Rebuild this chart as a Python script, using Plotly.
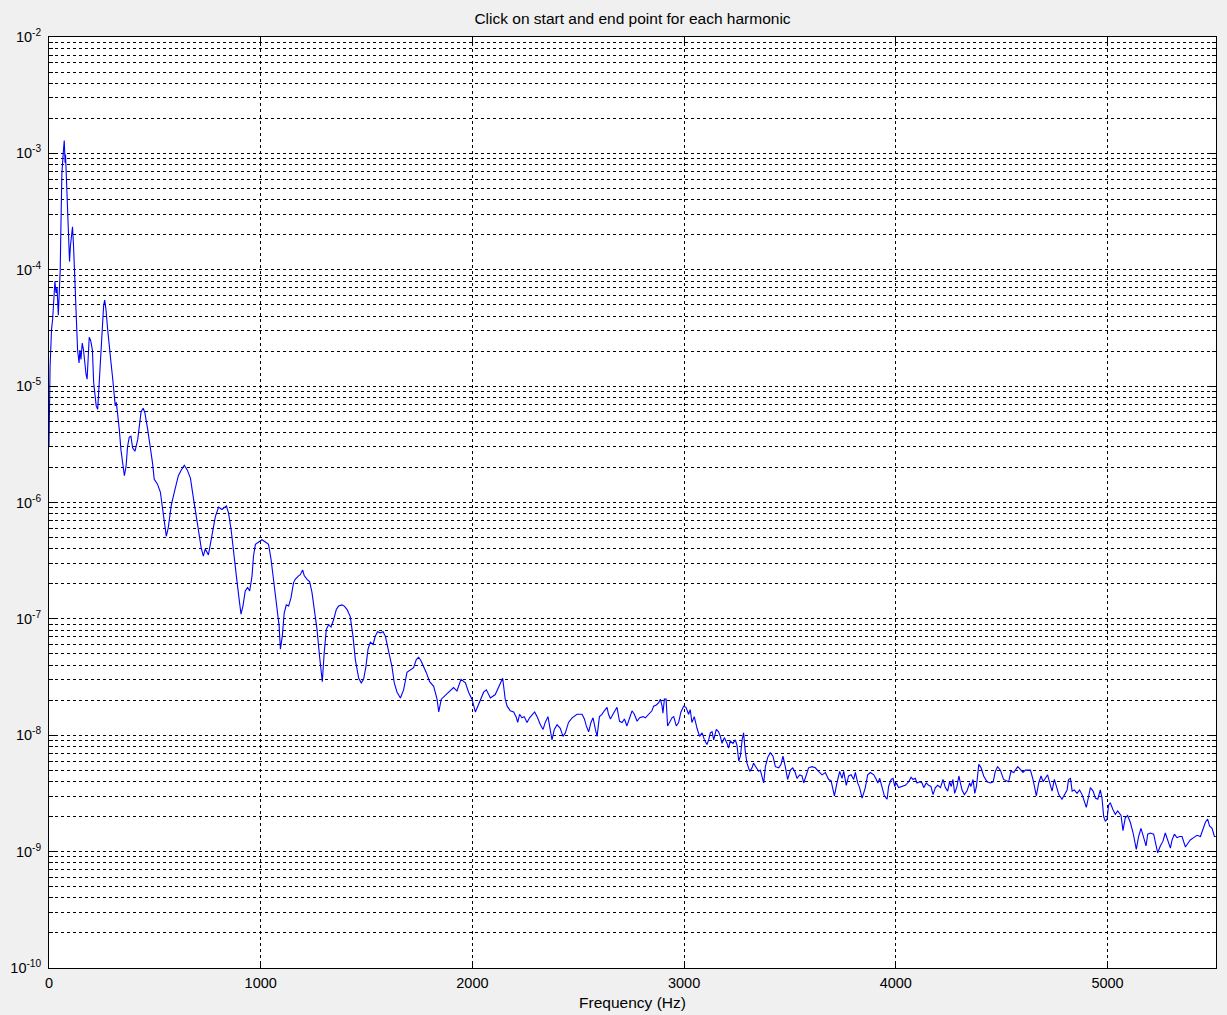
import numpy as np
import plotly.graph_objects as go

# Power spectrum of the recorded signal: frequency (Hz) and log10 of the PSD value
freq_hz = [
    0, 2, 5, 12, 17, 22, 28, 33, 38, 44,
    50, 53, 57, 61, 68, 72, 76, 78, 82, 88,
    93, 97, 101, 107, 111, 116, 123, 129, 135, 142,
    146, 151, 157, 163, 168, 175, 180, 184, 190, 197,
    205, 211, 217, 223, 230, 234, 241, 246, 253, 258,
    263, 269, 277, 285, 293, 300, 308, 313, 318, 324,
    332, 340, 348, 356, 364, 371, 379, 387, 395, 406,
    419, 427, 435, 445, 453, 466, 479, 489, 497, 512,
    526, 540, 554, 563, 578, 592, 611, 625, 639, 653,
    668, 682, 701, 719, 729, 738, 753, 770, 786, 801,
    817, 838, 848, 860, 872, 885, 896, 907, 916, 927,
    938, 948, 959, 966, 975, 990, 1006, 1022, 1037, 1049,
    1061, 1074, 1087, 1093, 1102, 1111, 1121, 1132, 1143, 1155,
    1163, 1179, 1187, 1198, 1206, 1219, 1231, 1242, 1253, 1266,
    1278, 1291, 1300, 1310, 1321, 1332, 1344, 1357, 1368, 1384,
    1395, 1408, 1423, 1436, 1447, 1463, 1475, 1486, 1497, 1507,
    1518, 1531, 1541, 1552, 1565, 1578, 1589, 1604, 1620, 1631,
    1644, 1660, 1675, 1691, 1707, 1722, 1735, 1746, 1757, 1770,
    1782, 1798, 1817, 1833, 1841, 1853, 1880, 1911, 1927, 1946,
    1967, 1982, 1998, 2014, 2028, 2053, 2066, 2085, 2108, 2132,
    2143, 2155, 2164, 2179, 2195, 2208, 2214, 2223, 2234, 2245,
    2258, 2270, 2282, 2294, 2308, 2321, 2334, 2344, 2357, 2368,
    2376, 2387, 2400, 2415, 2428, 2439, 2454, 2471, 2494, 2518,
    2529, 2538, 2549, 2560, 2570, 2581, 2589, 2600, 2612, 2623,
    2636, 2643, 2652, 2664, 2675, 2683, 2695, 2707, 2718, 2730,
    2743, 2754, 2765, 2778, 2790, 2806, 2817, 2832, 2848, 2856,
    2869, 2880, 2888, 2896, 2900, 2907, 2915, 2922, 2932, 2943,
    2951, 2963, 2974, 2985, 2998, 3009, 3021, 3029, 3037, 3048,
    3061, 3073, 3085, 3096, 3108, 3116, 3124, 3132, 3140, 3152,
    3163, 3171, 3179, 3190, 3203, 3210, 3218, 3231, 3242, 3250,
    3258, 3266, 3274, 3281, 3289, 3297, 3310, 3321, 3328, 3341,
    3352, 3360, 3376, 3384, 3395, 3407, 3420, 3431, 3447, 3458,
    3467, 3478, 3489, 3502, 3513, 3525, 3533, 3546, 3557, 3565,
    3577, 3588, 3604, 3620, 3635, 3652, 3667, 3683, 3694, 3710,
    3722, 3735, 3746, 3754, 3766, 3777, 3789, 3801, 3809, 3820,
    3829, 3841, 3856, 3867, 3880, 3896, 3908, 3915, 3924, 3935,
    3946, 3959, 3966, 3978, 3987, 3995, 4003, 4013, 4029, 4045,
    4061, 4072, 4081, 4092, 4100, 4113, 4124, 4132, 4144, 4155,
    4166, 4176, 4187, 4198, 4211, 4223, 4234, 4245, 4254, 4262,
    4270, 4278, 4289, 4298, 4305, 4313, 4324, 4336, 4349, 4355,
    4365, 4373, 4381, 4392, 4403, 4415, 4431, 4447, 4460, 4470,
    4481, 4494, 4509, 4533, 4544, 4557, 4576, 4588, 4601, 4612,
    4636, 4648, 4664, 4675, 4686, 4696, 4707, 4717, 4727, 4738,
    4749, 4759, 4770, 4785, 4796, 4809, 4816, 4825, 4833, 4843,
    4856, 4868, 4880, 4891, 4900, 4908, 4919, 4932, 4943, 4954,
    4966, 4974, 4982, 4990, 4998, 5005, 5013, 5026, 5037, 5048,
    5057, 5064, 5073, 5084, 5095, 5108, 5121, 5127, 5136, 5147,
    5158, 5171, 5182, 5190, 5202, 5218, 5226, 5237, 5250, 5262,
    5273, 5284, 5297, 5305, 5316, 5328, 5341, 5352, 5368, 5379,
    5391, 5407, 5423, 5439, 5451, 5462, 5473, 5482, 5494, 5505,
    5512,
]

psd_log10 = [
    -5.52, -5.23, -4.84, -4.51, -4.43, -4.28, -4.10, -4.20, -4.15, -4.39,
    -4.17, -4.00, -3.55, -3.17, -2.98, -2.89, -3.08, -3.01, -3.20, -3.46,
    -3.77, -3.93, -3.80, -3.65, -3.63, -3.80, -4.17, -4.51, -4.69, -4.80,
    -4.69, -4.77, -4.63, -4.69, -4.80, -4.90, -4.94, -4.77, -4.58, -4.61,
    -4.69, -4.97, -5.09, -5.17, -5.20, -5.06, -4.80, -4.63, -4.43, -4.31,
    -4.26, -4.34, -4.51, -4.63, -4.80, -4.92, -5.09, -5.17, -5.14, -5.22,
    -5.37, -5.55, -5.66, -5.77, -5.69, -5.52, -5.44, -5.43, -5.53, -5.56,
    -5.46, -5.31, -5.22, -5.19, -5.23, -5.37, -5.52, -5.66, -5.80, -5.84,
    -5.91, -6.08, -6.29, -6.22, -6.02, -5.91, -5.77, -5.72, -5.68, -5.72,
    -5.79, -5.96, -6.19, -6.39, -6.46, -6.40, -6.45, -6.26, -6.12, -6.04,
    -6.06, -6.03, -6.09, -6.23, -6.40, -6.63, -6.80, -6.96, -6.89, -6.76,
    -6.73, -6.76, -6.63, -6.46, -6.36, -6.34, -6.32, -6.34, -6.36, -6.49,
    -6.66, -6.84, -7.06, -7.26, -7.15, -6.95, -6.88, -6.89, -6.82, -6.69,
    -6.66, -6.63, -6.62, -6.58, -6.63, -6.66, -6.68, -6.77, -6.92, -7.09,
    -7.32, -7.54, -7.29, -7.09, -7.05, -7.07, -7.01, -6.92, -6.89, -6.88,
    -6.89, -6.92, -6.98, -7.15, -7.35, -7.51, -7.55, -7.52, -7.41, -7.26,
    -7.20, -7.22, -7.15, -7.11, -7.12, -7.11, -7.15, -7.29, -7.41, -7.55,
    -7.63, -7.68, -7.61, -7.46, -7.44, -7.42, -7.35, -7.33, -7.36, -7.41,
    -7.46, -7.54, -7.58, -7.69, -7.80, -7.69, -7.64, -7.59, -7.62, -7.52,
    -7.55, -7.63, -7.69, -7.80, -7.74, -7.63, -7.61, -7.68, -7.65, -7.55,
    -7.51, -7.69, -7.75, -7.79, -7.80, -7.85, -7.89, -7.82, -7.85, -7.84,
    -7.89, -7.85, -7.82, -7.80, -7.85, -7.91, -7.95, -7.89, -7.84, -7.94,
    -8.04, -7.95, -7.91, -7.94, -8.01, -7.98, -7.89, -7.85, -7.82, -7.82,
    -7.86, -7.92, -7.97, -7.89, -7.85, -7.95, -8.01, -7.84, -7.82, -7.79,
    -7.76, -7.82, -7.86, -7.82, -7.78, -7.76, -7.88, -7.89, -7.86, -7.92,
    -7.85, -7.79, -7.82, -7.88, -7.85, -7.84, -7.85, -7.82, -7.79, -7.75,
    -7.74, -7.72, -7.69, -7.75, -7.81, -7.69, -7.69, -7.92, -7.89, -7.85,
    -7.84, -7.92, -7.89, -7.80, -7.75, -7.76, -7.82, -7.78, -7.89, -7.84,
    -7.94, -8.01, -7.98, -8.04, -8.08, -8.04, -7.98, -7.97, -8.04, -7.95,
    -7.97, -8.01, -8.07, -8.02, -8.07, -8.11, -8.05, -8.07, -8.04, -8.09,
    -8.22, -8.18, -8.04, -7.98, -8.14, -8.24, -8.31, -8.28, -8.24, -8.28,
    -8.31, -8.30, -8.41, -8.27, -8.19, -8.15, -8.18, -8.27, -8.28, -8.25,
    -8.18, -8.27, -8.38, -8.30, -8.28, -8.32, -8.37, -8.34, -8.35, -8.41,
    -8.35, -8.28, -8.27, -8.28, -8.31, -8.34, -8.32, -8.38, -8.39, -8.52,
    -8.41, -8.31, -8.37, -8.31, -8.43, -8.35, -8.34, -8.38, -8.32, -8.41,
    -8.45, -8.54, -8.45, -8.34, -8.32, -8.34, -8.38, -8.41, -8.37, -8.44,
    -8.52, -8.55, -8.44, -8.38, -8.37, -8.44, -8.41, -8.45, -8.44, -8.43,
    -8.40, -8.36, -8.38, -8.37, -8.41, -8.40, -8.41, -8.45, -8.41, -8.43,
    -8.44, -8.51, -8.45, -8.43, -8.45, -8.38, -8.45, -8.48, -8.40, -8.44,
    -8.38, -8.50, -8.44, -8.35, -8.41, -8.47, -8.51, -8.48, -8.41, -8.44,
    -8.38, -8.50, -8.44, -8.25, -8.28, -8.35, -8.40, -8.41, -8.40, -8.31,
    -8.27, -8.30, -8.38, -8.40, -8.31, -8.32, -8.27, -8.29, -8.32, -8.30,
    -8.30, -8.38, -8.52, -8.41, -8.35, -8.40, -8.37, -8.34, -8.41, -8.48,
    -8.38, -8.45, -8.51, -8.55, -8.51, -8.47, -8.38, -8.37, -8.48, -8.47,
    -8.50, -8.47, -8.51, -8.57, -8.62, -8.55, -8.45, -8.48, -8.54, -8.55,
    -8.47, -8.54, -8.70, -8.74, -8.72, -8.60, -8.58, -8.64, -8.68, -8.65,
    -8.68, -8.69, -8.82, -8.71, -8.69, -8.75, -8.84, -8.91, -8.98, -8.87,
    -8.80, -8.88, -8.95, -8.85, -8.84, -8.85, -8.92, -9.01, -8.95, -8.91,
    -8.84, -8.91, -8.97, -8.90, -8.85, -8.88, -8.87, -8.87, -8.96, -8.93,
    -8.90, -8.88, -8.86, -8.87, -8.81, -8.75, -8.72, -8.78, -8.80, -8.87,
    -8.87,
]

assert len(freq_hz) == len(psd_log10)
psd = np.power(10.0, np.array(psd_log10))

# Axis ticks
x_ticks = [0, 1000, 2000, 3000, 4000, 5000]
decades = list(range(-10, -1))
y_ticks = [10.0 ** d for d in decades]
y_ticktext = [f"10<sup>{d}</sup>" for d in decades]
y_minor = [m * 10.0 ** d for d in range(-10, -2) for m in range(2, 10)]

grid_color = "#000000"
grid_dash = "3px,3px"

fig = go.Figure(
    go.Scatter(
        x=freq_hz,
        y=psd,
        mode="lines",
        line=dict(color="#0000ff", width=1.1),
        showlegend=False,
    )
)

fig.update_layout(
    width=1227,
    height=1015,
    margin=dict(l=49, r=11, t=37, b=47),
    paper_bgcolor="#f0f0f0",
    plot_bgcolor="#ffffff",
    font=dict(family="Liberation Sans, Arial, sans-serif", size=14.5, color="#000000"),
    title=dict(
        text="Click on start and end point for each harmonic",
        x=0.5,
        xref="paper",
        xanchor="center",
        y=1 - 19 / 1015,
        yref="container",
        yanchor="middle",
        font=dict(size=15.5),
    ),
)

fig.update_xaxes(
    range=[0, 5512.5],
    automargin=False,
    tickmode="array",
    tickvals=x_ticks,
    ticks="inside",
    ticklen=7,
    tickcolor="#000000",
    tickfont=dict(size=14.5),
    ticklabelstandoff=2,
    showline=True,
    linecolor="#000000",
    linewidth=1,
    mirror="allticks",
    showgrid=True,
    gridcolor=grid_color,
    gridwidth=1,
    griddash=grid_dash,
    zeroline=False,
    title=dict(text="Frequency (Hz)", standoff=6, font=dict(size=15.5)),
)

fig.update_yaxes(
    type="log",
    range=[-10, -2],
    automargin=False,
    tickmode="array",
    tickvals=y_ticks,
    ticktext=y_ticktext,
    ticks="inside",
    ticklen=7,
    tickcolor="#000000",
    tickfont=dict(size=14.5),
    ticklabelstandoff=4,
    showline=True,
    linecolor="#000000",
    linewidth=1,
    mirror="allticks",
    showgrid=True,
    gridcolor=grid_color,
    gridwidth=1,
    griddash=grid_dash,
    zeroline=False,
    minor=dict(
        tickmode="array",
        tickvals=y_minor,
        ticks="inside",
        ticklen=4,
        tickcolor="#000000",
        showgrid=True,
        gridcolor=grid_color,
        gridwidth=1,
        griddash=grid_dash,
    ),
)

fig.write_html("out.html")
